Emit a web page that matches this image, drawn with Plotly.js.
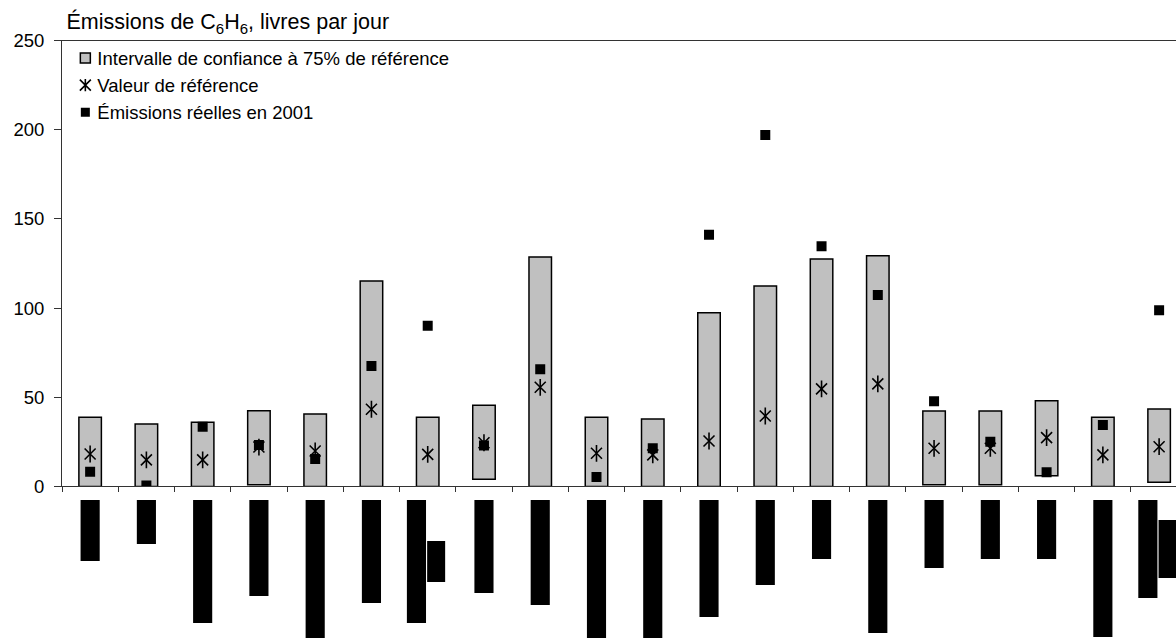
<!DOCTYPE html>
<html>
<head>
<meta charset="utf-8">
<script src="https://cdn.plot.ly/plotly-3.0.1.min.js"></script>
<style>html,body{margin:0;padding:0;background:#fff;}#chart{width:1176px;height:638px;}</style>
</head>
<body>
<div id="chart"></div>
<script>
// Category positions (labels are blacked out in the source)
const categories = [1,2,3,4,5,6,7,8,9,10,11,12,13,14,15,16,17,18,19,20];
// 75% confidence interval, lower and upper bound
const ciLower = [0,0,0,1,0,0,0,4,0,0,0,0,0,0,0,1,1,6,0,2.4];
const ciUpper = [38.8,35,36,42.5,40.6,115.2,38.8,45.5,128.6,38.8,37.8,97.4,112.4,127.5,129.4,42.3,42.3,48.1,38.8,43.4];
// Reference value (star)
const refValue = [18.2,14.9,14.9,22.1,19.9,43.3,18,24.5,55.6,18.6,17.7,25.5,39.5,54.7,57.5,21.4,21.4,27.4,17.7,22.3];
// Actual 2001 emissions (square)
const actual2001 = [8.3,0.5,33.5,23.3,15.4,67.5,90.1,23,65.7,5.3,21.4,141.1,197,134.6,107.3,47.8,25.1,8,34.5,98.8];
// Blacked-out category label blocks (length), first and second line
const labelLine1 = [61,44,123,96,138,103,123,93,105,138,138,117,85,59,133,68,59,59,137,98];
const labelLine2Start = [0,0,0,0,0,0,41,0,0,0,0,0,0,0,0,0,0,0,0,20];
const labelLine2 = [0,0,0,0,0,0,41,0,0,0,0,0,0,0,0,0,0,0,0,58];
const yTicks = [0,50,100,150,200,250];

const FONT = 'Liberation Sans, Arial, sans-serif';
const hasSecond = labelLine2.map(v => v > 0);

const traces = [
  {
    type: 'bar', name: 'Intervalle de confiance à 75% de référence',
    x: categories, base: ciLower, y: ciUpper.map((u, i) => u - ciLower[i]),
    width: 0.4,
    marker: {color: '#c0c0c0', line: {color: '#000', width: 1.5}},
    hoverinfo: 'skip'
  },
  {
    type: 'scatter', mode: 'markers', name: 'Valeur de référence',
    x: categories, y: refValue,
    marker: {symbol: 'x-thin-open', size: 11, color: '#000', line: {color: '#000', width: 1.6}}
  },
  {
    type: 'scatter', mode: 'markers', name: 'Valeur de référence', showlegend: false,
    x: categories, y: refValue,
    marker: {symbol: 'line-ns-open', size: 12, color: '#000', line: {color: '#000', width: 1.6}}
  },
  {
    type: 'scatter', mode: 'markers', name: 'Émissions réelles en 2001',
    x: categories, y: actual2001,
    marker: {symbol: 'square', size: 10, color: '#000', line: {width: 0}}
  },
  {
    type: 'bar', showlegend: false, xaxis: 'x2', yaxis: 'y2',
    x: categories, y: labelLine1.map(v => -v), base: 0,
    width: 0.34, offset: hasSecond.map(h => h ? -0.37 : -0.17),
    marker: {color: '#000', line: {width: 0}}, hoverinfo: 'skip'
  },
  {
    type: 'bar', showlegend: false, xaxis: 'x2', yaxis: 'y2',
    x: categories, y: labelLine2.map(v => -v), base: labelLine2Start.map(v => -v),
    width: 0.32, offset: -0.01,
    marker: {color: '#000', line: {width: 0}}, hoverinfo: 'skip'
  }
];

const boundaries = categories.map(c => c - 0.5).concat([categories[categories.length - 1] + 0.5]);

const layout = {
  width: 1176, height: 638,
  margin: {l: 62, r: 0, t: 0, b: 0},
  paper_bgcolor: '#fff', plot_bgcolor: '#fff',
  font: {family: FONT, size: 18.5, color: '#000'},
  barmode: 'overlay',
  showlegend: true,
  title: {
    text: 'Émissions de C<sub>6</sub>H<sub>6</sub>, livres par jour',
    font: {family: FONT, size: 21.5, color: '#000'},
    xref: 'container', x: 0.0565, xanchor: 'left',
    yref: 'container', y: 0.966, yanchor: 'middle'
  },
  xaxis: {
    domain: [0, 1], anchor: 'y', range: [0.5, 20.3],
    tickmode: 'array', tickvals: boundaries, showticklabels: false,
    ticks: 'outside', ticklen: 5, tickcolor: '#333', tickwidth: 1,
    showline: true, linecolor: '#333', linewidth: 1, mirror: true,
    showgrid: false, zeroline: false, fixedrange: true
  },
  yaxis: {
    domain: [0.2375, 0.9365], anchor: 'x', range: [0, 250],
    tickmode: 'array', tickvals: yTicks,
    ticks: 'outside', ticklen: 7, tickcolor: '#333', tickwidth: 1,
    tickfont: {family: FONT, size: 18.5, color: '#000'},
    ticklabelstandoff: 6,
    showline: true, linecolor: '#333', linewidth: 1,
    showgrid: false, zeroline: false, fixedrange: true
  },
  xaxis2: {domain: [0, 1], anchor: 'y2', range: [0.5, 20.3], visible: false, fixedrange: true},
  yaxis2: {domain: [0, 0.2163], anchor: 'x2', range: [-138, 0], visible: false, fixedrange: true},
  legend: {
    x: 0.003, xanchor: 'left', y: 0.938, yanchor: 'top',
    bgcolor: 'rgba(0,0,0,0)', borderwidth: 0,
    font: {family: FONT, size: 18.5, color: '#000'},
    tracegroupgap: 0, itemwidth: 30
  }
};

Plotly.newPlot('chart', traces, layout, {displayModeBar: false, staticPlot: true}).then(gd => {
  // Tighten legend: text closer to its symbol, as in the source chart
  const items = gd.querySelectorAll('.legend .traces');
  items.forEach((item, idx) => {
    const txt = item.querySelector('.legendtext');
    if (txt) txt.setAttribute('x', 32);
    if (idx === 0) {
      const p = item.querySelector('.legendpoints path');
      if (p) p.setAttribute('d', 'M5,5H-5V-5H5Z');
    }
    if (idx === 1) {
      const p = item.querySelector('.legendpoints path.scatterpts');
      if (p) {
        const d = p.getAttribute('d');
        const r = Math.abs(parseFloat(d.slice(1))) || 5;
        p.setAttribute('d', d + 'M0,' + (-r * 1.1) + 'V' + (r * 1.1));
      }
    }
    if (idx === 2) {
      const p = item.querySelector('.legendpoints path.scatterpts');
      if (p) p.setAttribute('d', 'M4.5,4.5H-4.5V-4.5H4.5Z');
    }
  });
});
</script>
</body>
</html>
